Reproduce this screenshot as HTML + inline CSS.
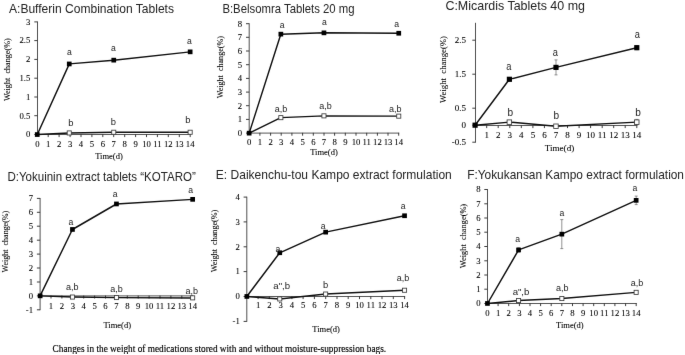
<!DOCTYPE html>
<html><head><meta charset="utf-8"><title>Figure</title>
<style>html,body{margin:0;padding:0;background:#fff}svg{display:block;will-change:transform}.t{font-family:"Liberation Serif", serif;fill:#000;stroke:#000;stroke-width:0.08px}.s{font-family:"Liberation Sans", sans-serif;fill:#222}</style></head><body>
<svg width="685" height="355" viewBox="0 0 685 355">
<defs><filter id="bl" x="0" y="0" width="100%" height="100%" color-interpolation-filters="sRGB"><feConvolveMatrix order="3" kernelMatrix="0.0028 0.0470 0.0028 0.0470 0.8008 0.0470 0.0028 0.0470 0.0028" divisor="1" edgeMode="duplicate" preserveAlpha="false"/></filter></defs>
<rect width="685" height="355" fill="#fff"/>
<g filter="url(#bl)">
<g id="chartA">
<text class="s" x="9.0" y="13.1" font-size="12.2" textLength="165.0" lengthAdjust="spacingAndGlyphs">A:Bufferin Combination Tablets</text>
<g fill="none">
<path d="M37.5 21.5V134.9" stroke="#505050" stroke-width="1"/>
<path d="M37.5 134.5H190.7" stroke="#555" stroke-width="1"/>
<path d="M37.5 134.5h-3.2M37.5 115.7h-3.2M37.5 97.0h-3.2M37.5 78.2h-3.2M37.5 59.4h-3.2M37.5 40.6h-3.2M37.5 21.9h-3.2M48.2 134.2v2.9M59.1 134.2v2.9M70.1 134.2v2.9M81.0 134.2v2.9M91.9 134.2v2.9M102.8 134.2v2.9M113.7 134.2v2.9M124.7 134.2v2.9M135.6 134.2v2.9M146.5 134.2v2.9M157.4 134.2v2.9M168.3 134.2v2.9M179.3 134.2v2.9M190.2 134.2v2.9" stroke="#333" stroke-width="0.95"/>
</g>
<text class="t" x="30.3" y="137.3" font-size="8.7" text-anchor="end">0</text>
<text class="t" x="30.3" y="118.5" font-size="8.7" text-anchor="end">0.5</text>
<text class="t" x="30.3" y="99.8" font-size="8.7" text-anchor="end">1</text>
<text class="t" x="30.3" y="81.0" font-size="8.7" text-anchor="end">1.5</text>
<text class="t" x="30.3" y="62.2" font-size="8.7" text-anchor="end">2</text>
<text class="t" x="30.3" y="43.4" font-size="8.7" text-anchor="end">2.5</text>
<text class="t" x="30.3" y="24.7" font-size="8.7" text-anchor="end">3</text>
<text class="t" x="37.3" y="146.8" font-size="8.7" text-anchor="middle">0</text>
<text class="t" x="48.2" y="146.8" font-size="8.7" text-anchor="middle">1</text>
<text class="t" x="59.1" y="146.8" font-size="8.7" text-anchor="middle">2</text>
<text class="t" x="70.1" y="146.8" font-size="8.7" text-anchor="middle">3</text>
<text class="t" x="81.0" y="146.8" font-size="8.7" text-anchor="middle">4</text>
<text class="t" x="91.9" y="146.8" font-size="8.7" text-anchor="middle">5</text>
<text class="t" x="102.8" y="146.8" font-size="8.7" text-anchor="middle">6</text>
<text class="t" x="113.7" y="146.8" font-size="8.7" text-anchor="middle">7</text>
<text class="t" x="124.7" y="146.8" font-size="8.7" text-anchor="middle">8</text>
<text class="t" x="135.6" y="146.8" font-size="8.7" text-anchor="middle">9</text>
<text class="t" x="146.5" y="146.8" font-size="8.7" text-anchor="middle">10</text>
<text class="t" x="157.4" y="146.8" font-size="8.7" text-anchor="middle">11</text>
<text class="t" x="168.3" y="146.8" font-size="8.7" text-anchor="middle">12</text>
<text class="t" x="179.3" y="146.8" font-size="8.7" text-anchor="middle">13</text>
<text class="t" x="190.2" y="146.8" font-size="8.7" text-anchor="middle">14</text>
<text class="t" x="109.0" y="158.6" font-size="8.5" text-anchor="middle">Time(d)</text>
<text class="t" transform="translate(10.1 69.7) rotate(-90)" font-size="8.1" text-anchor="middle" textLength="62.8" lengthAdjust="spacing" xml:space="preserve">Weight  change(%)</text>
<path d="M190.2 50.8V53.0M188.7 50.8h3M188.7 53.0h3" stroke="#666" stroke-width="0.7" fill="none"/>
<polyline fill="none" stroke="#111" stroke-width="1.45" stroke-linejoin="round" points="37.3,134.5 69.3,133.0 113.7,132.2 190.2,132.2"/>
<polyline fill="none" stroke="#111" stroke-width="1.45" stroke-linejoin="round" points="37.3,134.5 69.3,63.9 113.7,60.2 190.2,51.9"/>
<rect x="67.2" y="130.9" width="4.10" height="4.10" fill="#fff" stroke="#3a3a3a" stroke-width="0.85"/>
<rect x="111.7" y="130.2" width="4.10" height="4.10" fill="#fff" stroke="#3a3a3a" stroke-width="0.85"/>
<rect x="188.1" y="130.2" width="4.10" height="4.10" fill="#fff" stroke="#3a3a3a" stroke-width="0.85"/>
<rect x="34.9" y="132.2" width="4.70" height="4.70" fill="#000"/>
<rect x="66.9" y="61.6" width="4.70" height="4.70" fill="#000"/>
<rect x="111.4" y="57.8" width="4.70" height="4.70" fill="#000"/>
<rect x="187.8" y="49.5" width="4.70" height="4.70" fill="#000"/>
<text class="s" transform="translate(69.4 55.2) scale(0.90 1)" font-size="9.6" text-anchor="middle" fill="#333">a</text>
<text class="s" transform="translate(113.5 51.0) scale(0.90 1)" font-size="9.6" text-anchor="middle" fill="#333">a</text>
<text class="s" transform="translate(189.5 44.0) scale(0.90 1)" font-size="9.6" text-anchor="middle" fill="#333">a</text>
<text class="s" transform="translate(70.9 126.0) scale(0.98 1)" font-size="9.6" text-anchor="middle" fill="#333">b</text>
<text class="s" transform="translate(113.4 124.8) scale(0.98 1)" font-size="9.6" text-anchor="middle" fill="#333">b</text>
<text class="s" transform="translate(187.9 123.0) scale(0.98 1)" font-size="9.6" text-anchor="middle" fill="#333">b</text>
</g>
<g id="chartB">
<text class="s" x="222.4" y="12.6" font-size="12.2" textLength="132.2" lengthAdjust="spacingAndGlyphs">B:Belsomra Tablets 20 mg</text>
<g fill="none">
<path d="M249.2 23.3V133.5" stroke="#505050" stroke-width="1"/>
<path d="M249.2 133.1H399.2" stroke="#555" stroke-width="1"/>
<path d="M249.2 133.1h-3.2M249.2 119.4h-3.2M249.2 105.7h-3.2M249.2 92.1h-3.2M249.2 78.4h-3.2M249.2 64.7h-3.2M249.2 51.0h-3.2M249.2 37.3h-3.2M249.2 23.7h-3.2M259.9 132.8v2.9M270.6 132.8v2.9M281.2 132.8v2.9M291.9 132.8v2.9M302.6 132.8v2.9M313.3 132.8v2.9M324.0 132.8v2.9M334.6 132.8v2.9M345.3 132.8v2.9M356.0 132.8v2.9M366.7 132.8v2.9M377.4 132.8v2.9M388.0 132.8v2.9M398.7 132.8v2.9" stroke="#333" stroke-width="0.95"/>
</g>
<text class="t" x="242.2" y="135.9" font-size="8.7" text-anchor="end">0</text>
<text class="t" x="242.2" y="122.2" font-size="8.7" text-anchor="end">1</text>
<text class="t" x="242.2" y="108.5" font-size="8.7" text-anchor="end">2</text>
<text class="t" x="242.2" y="94.9" font-size="8.7" text-anchor="end">3</text>
<text class="t" x="242.2" y="81.2" font-size="8.7" text-anchor="end">4</text>
<text class="t" x="242.2" y="67.5" font-size="8.7" text-anchor="end">5</text>
<text class="t" x="242.2" y="53.8" font-size="8.7" text-anchor="end">6</text>
<text class="t" x="242.2" y="40.1" font-size="8.7" text-anchor="end">7</text>
<text class="t" x="242.2" y="26.5" font-size="8.7" text-anchor="end">8</text>
<text class="t" x="249.2" y="145.0" font-size="8.7" text-anchor="middle">0</text>
<text class="t" x="259.9" y="145.0" font-size="8.7" text-anchor="middle">1</text>
<text class="t" x="270.6" y="145.0" font-size="8.7" text-anchor="middle">2</text>
<text class="t" x="281.2" y="145.0" font-size="8.7" text-anchor="middle">3</text>
<text class="t" x="291.9" y="145.0" font-size="8.7" text-anchor="middle">4</text>
<text class="t" x="302.6" y="145.0" font-size="8.7" text-anchor="middle">5</text>
<text class="t" x="313.3" y="145.0" font-size="8.7" text-anchor="middle">6</text>
<text class="t" x="324.0" y="145.0" font-size="8.7" text-anchor="middle">7</text>
<text class="t" x="334.6" y="145.0" font-size="8.7" text-anchor="middle">8</text>
<text class="t" x="345.3" y="145.0" font-size="8.7" text-anchor="middle">9</text>
<text class="t" x="356.0" y="145.0" font-size="8.7" text-anchor="middle">10</text>
<text class="t" x="366.7" y="145.0" font-size="8.7" text-anchor="middle">11</text>
<text class="t" x="377.4" y="145.0" font-size="8.7" text-anchor="middle">12</text>
<text class="t" x="388.0" y="145.0" font-size="8.7" text-anchor="middle">13</text>
<text class="t" x="398.7" y="145.0" font-size="8.7" text-anchor="middle">14</text>
<text class="t" x="324.0" y="154.6" font-size="8.5" text-anchor="middle">Time(d)</text>
<text class="t" transform="translate(222.5 67.2) rotate(-90)" font-size="8.1" text-anchor="middle" textLength="62.3" lengthAdjust="spacing" xml:space="preserve">Weight  change(%)</text>
<polyline fill="none" stroke="#111" stroke-width="1.45" stroke-linejoin="round" points="249.2,133.1 280.8,117.6 324.0,115.9 398.7,116.1"/>
<polyline fill="none" stroke="#111" stroke-width="1.45" stroke-linejoin="round" points="249.2,133.1 280.8,34.2 324.0,32.8 398.7,33.2"/>
<rect x="278.8" y="115.6" width="4.10" height="4.10" fill="#fff" stroke="#3a3a3a" stroke-width="0.85"/>
<rect x="321.9" y="113.8" width="4.10" height="4.10" fill="#fff" stroke="#3a3a3a" stroke-width="0.85"/>
<rect x="396.7" y="114.1" width="4.10" height="4.10" fill="#fff" stroke="#3a3a3a" stroke-width="0.85"/>
<rect x="246.8" y="130.8" width="4.70" height="4.70" fill="#000"/>
<rect x="278.5" y="31.8" width="4.70" height="4.70" fill="#000"/>
<rect x="321.6" y="30.5" width="4.70" height="4.70" fill="#000"/>
<rect x="396.4" y="30.9" width="4.70" height="4.70" fill="#000"/>
<text class="s" transform="translate(282.1 28.3) scale(0.90 1)" font-size="9.6" text-anchor="middle" fill="#333">a</text>
<text class="s" transform="translate(324.4 25.3) scale(0.90 1)" font-size="9.6" text-anchor="middle" fill="#333">a</text>
<text class="s" transform="translate(396.7 27.0) scale(0.90 1)" font-size="9.6" text-anchor="middle" fill="#333">a</text>
<text class="s" transform="translate(280.9 112.1) scale(0.94 1)" font-size="9.6" text-anchor="middle" fill="#333">a,b</text>
<text class="s" transform="translate(325.4 109.0) scale(0.94 1)" font-size="9.6" text-anchor="middle" fill="#333">a,b</text>
<text class="s" transform="translate(395.2 111.6) scale(0.94 1)" font-size="9.6" text-anchor="middle" fill="#333">a,b</text>
</g>
<g id="chartC">
<text class="s" x="445.4" y="10.2" font-size="12.2" textLength="139.6" lengthAdjust="spacingAndGlyphs">C:Micardis Tablets 40 mg</text>
<g fill="none">
<path d="M475.5 22.8V142.6" stroke="#505050" stroke-width="1"/>
<path d="M475.5 125.5H637.3" stroke="#555" stroke-width="1"/>
<path d="M475.5 142.2h-3.2M475.5 125.2h-3.2M475.5 108.2h-3.2M475.5 74.2h-3.2M475.5 40.2h-3.2M486.7 125.2v2.9M498.2 125.2v2.9M509.8 125.2v2.9M521.3 125.2v2.9M532.9 125.2v2.9M544.4 125.2v2.9M556.0 125.2v2.9M567.5 125.2v2.9M579.1 125.2v2.9M590.6 125.2v2.9M602.2 125.2v2.9M613.7 125.2v2.9M625.2 125.2v2.9M636.8 125.2v2.9" stroke="#333" stroke-width="0.95"/>
</g>
<text class="t" x="466.1" y="145.0" font-size="9.0" text-anchor="end">-0.5</text>
<text class="t" x="466.1" y="128.0" font-size="9.0" text-anchor="end">0</text>
<text class="t" x="466.1" y="111.0" font-size="9.0" text-anchor="end">0.5</text>
<text class="t" x="466.1" y="77.0" font-size="9.0" text-anchor="end">1.5</text>
<text class="t" x="466.1" y="43.0" font-size="9.0" text-anchor="end">2.5</text>
<text class="t" x="486.7" y="138.4" font-size="9.0" text-anchor="middle">1</text>
<text class="t" x="498.2" y="138.4" font-size="9.0" text-anchor="middle">2</text>
<text class="t" x="509.8" y="138.4" font-size="9.0" text-anchor="middle">3</text>
<text class="t" x="521.3" y="138.4" font-size="9.0" text-anchor="middle">4</text>
<text class="t" x="532.9" y="138.4" font-size="9.0" text-anchor="middle">5</text>
<text class="t" x="544.4" y="138.4" font-size="9.0" text-anchor="middle">6</text>
<text class="t" x="556.0" y="138.4" font-size="9.0" text-anchor="middle">7</text>
<text class="t" x="567.5" y="138.4" font-size="9.0" text-anchor="middle">8</text>
<text class="t" x="579.1" y="138.4" font-size="9.0" text-anchor="middle">9</text>
<text class="t" x="590.6" y="138.4" font-size="9.0" text-anchor="middle">10</text>
<text class="t" x="602.2" y="138.4" font-size="9.0" text-anchor="middle">11</text>
<text class="t" x="613.7" y="138.4" font-size="9.0" text-anchor="middle">12</text>
<text class="t" x="625.2" y="138.4" font-size="9.0" text-anchor="middle">13</text>
<text class="t" x="636.8" y="138.4" font-size="9.0" text-anchor="middle">14</text>
<text class="t" x="559.5" y="151.2" font-size="9.1" text-anchor="middle">Time(d)</text>
<text class="t" transform="translate(446.4 69.5) rotate(-90)" font-size="8.6" text-anchor="middle" textLength="66.8" lengthAdjust="spacing" xml:space="preserve">Weight  change(%)</text>
<path d="M509.4 77.9V80.7M507.9 77.9h3M507.9 80.7h3M556.0 59.9V74.9M554.5 59.9h3M554.5 74.9h3M636.8 45.6V49.7M635.3 45.6h3M635.3 49.7h3M636.8 119.4V124.9M635.3 119.4h3M635.3 124.9h3" stroke="#666" stroke-width="0.7" fill="none"/>
<polyline fill="none" stroke="#111" stroke-width="1.45" stroke-linejoin="round" points="475.1,125.2 509.4,122.1 556.0,126.2 636.8,122.1"/>
<polyline fill="none" stroke="#111" stroke-width="1.45" stroke-linejoin="round" points="475.1,125.2 509.4,79.3 556.0,67.4 636.8,47.7"/>
<rect x="507.1" y="119.9" width="4.51" height="4.51" fill="#fff" stroke="#3a3a3a" stroke-width="0.85"/>
<rect x="553.7" y="124.0" width="4.51" height="4.51" fill="#fff" stroke="#3a3a3a" stroke-width="0.85"/>
<rect x="634.5" y="119.9" width="4.51" height="4.51" fill="#fff" stroke="#3a3a3a" stroke-width="0.85"/>
<rect x="472.5" y="122.6" width="5.17" height="5.17" fill="#000"/>
<rect x="506.8" y="76.7" width="5.17" height="5.17" fill="#000"/>
<rect x="553.4" y="64.8" width="5.17" height="5.17" fill="#000"/>
<rect x="634.2" y="45.1" width="5.17" height="5.17" fill="#000"/>
<text class="s" transform="translate(508.9 70.1) scale(0.90 1)" font-size="10.3" text-anchor="middle" fill="#333">a</text>
<text class="s" transform="translate(555.4 55.7) scale(0.90 1)" font-size="10.3" text-anchor="middle" fill="#333">a</text>
<text class="s" transform="translate(637.3 37.7) scale(0.90 1)" font-size="10.3" text-anchor="middle" fill="#333">a</text>
<text class="s" transform="translate(510.4 115.9) scale(0.98 1)" font-size="10.3" text-anchor="middle" fill="#333">b</text>
<text class="s" transform="translate(556.4 119.0) scale(0.98 1)" font-size="10.3" text-anchor="middle" fill="#333">b</text>
<text class="s" transform="translate(638.0 116.0) scale(0.98 1)" font-size="10.3" text-anchor="middle" fill="#333">b</text>
</g>
<g id="chartD">
<text class="s" x="7.4" y="180.6" font-size="12.2" textLength="188.4" lengthAdjust="spacingAndGlyphs">D:Yokuinin extract tablets “KOTARO”</text>
<g fill="none">
<path d="M40.1 198.0V310.2" stroke="#505050" stroke-width="1"/>
<path d="M40.1 295.9H193.2" stroke="#555" stroke-width="1"/>
<path d="M40.1 309.8h-3.2M40.1 295.9h-3.2M40.1 282.0h-3.2M40.1 268.0h-3.2M40.1 254.1h-3.2M40.1 240.2h-3.2M40.1 226.2h-3.2M40.1 212.3h-3.2M40.1 198.4h-3.2M51.0 295.6v2.9M61.9 295.6v2.9M72.8 295.6v2.9M83.7 295.6v2.9M94.6 295.6v2.9M105.5 295.6v2.9M116.4 295.6v2.9M127.3 295.6v2.9M138.2 295.6v2.9M149.1 295.6v2.9M160.0 295.6v2.9M170.9 295.6v2.9M181.8 295.6v2.9M192.7 295.6v2.9" stroke="#333" stroke-width="0.95"/>
</g>
<text class="t" x="33.1" y="312.6" font-size="8.7" text-anchor="end">-1</text>
<text class="t" x="33.1" y="298.7" font-size="8.7" text-anchor="end">0</text>
<text class="t" x="33.1" y="284.8" font-size="8.7" text-anchor="end">1</text>
<text class="t" x="33.1" y="270.8" font-size="8.7" text-anchor="end">2</text>
<text class="t" x="33.1" y="256.9" font-size="8.7" text-anchor="end">3</text>
<text class="t" x="33.1" y="243.0" font-size="8.7" text-anchor="end">4</text>
<text class="t" x="33.1" y="229.0" font-size="8.7" text-anchor="end">5</text>
<text class="t" x="33.1" y="215.1" font-size="8.7" text-anchor="end">6</text>
<text class="t" x="33.1" y="201.2" font-size="8.7" text-anchor="end">7</text>
<text class="t" x="51.0" y="308.8" font-size="8.7" text-anchor="middle">1</text>
<text class="t" x="61.9" y="308.8" font-size="8.7" text-anchor="middle">2</text>
<text class="t" x="72.8" y="308.8" font-size="8.7" text-anchor="middle">3</text>
<text class="t" x="83.7" y="308.8" font-size="8.7" text-anchor="middle">4</text>
<text class="t" x="94.6" y="308.8" font-size="8.7" text-anchor="middle">5</text>
<text class="t" x="105.5" y="308.8" font-size="8.7" text-anchor="middle">6</text>
<text class="t" x="116.4" y="308.8" font-size="8.7" text-anchor="middle">7</text>
<text class="t" x="127.3" y="308.8" font-size="8.7" text-anchor="middle">8</text>
<text class="t" x="138.2" y="308.8" font-size="8.7" text-anchor="middle">9</text>
<text class="t" x="149.1" y="308.8" font-size="8.7" text-anchor="middle">10</text>
<text class="t" x="160.0" y="308.8" font-size="8.7" text-anchor="middle">11</text>
<text class="t" x="170.9" y="308.8" font-size="8.7" text-anchor="middle">12</text>
<text class="t" x="181.8" y="308.8" font-size="8.7" text-anchor="middle">13</text>
<text class="t" x="192.7" y="308.8" font-size="8.7" text-anchor="middle">14</text>
<text class="t" x="117.2" y="328.1" font-size="8.5" text-anchor="middle">Time(d)</text>
<text class="t" transform="translate(7.5 241.6) rotate(-90)" font-size="8.0" text-anchor="middle" textLength="61.6" lengthAdjust="spacing" xml:space="preserve">Weight  change(%)</text>
<polyline fill="none" stroke="#111" stroke-width="1.45" stroke-linejoin="round" points="40.1,295.9 72.4,297.0 116.4,297.6 192.7,297.9"/>
<polyline fill="none" stroke="#111" stroke-width="1.45" stroke-linejoin="round" points="40.1,295.9 72.4,229.5 116.4,204.0 192.7,199.4"/>
<rect x="70.4" y="295.0" width="4.10" height="4.10" fill="#fff" stroke="#3a3a3a" stroke-width="0.85"/>
<rect x="114.4" y="295.5" width="4.10" height="4.10" fill="#fff" stroke="#3a3a3a" stroke-width="0.85"/>
<rect x="190.6" y="295.8" width="4.10" height="4.10" fill="#fff" stroke="#3a3a3a" stroke-width="0.85"/>
<rect x="37.8" y="293.5" width="4.70" height="4.70" fill="#000"/>
<rect x="70.1" y="227.1" width="4.70" height="4.70" fill="#000"/>
<rect x="114.1" y="201.6" width="4.70" height="4.70" fill="#000"/>
<rect x="190.3" y="197.0" width="4.70" height="4.70" fill="#000"/>
<text class="s" transform="translate(70.9 225.0) scale(0.90 1)" font-size="9.6" text-anchor="middle" fill="#333">a</text>
<text class="s" transform="translate(115.2 197.1) scale(0.90 1)" font-size="9.6" text-anchor="middle" fill="#333">a</text>
<text class="s" transform="translate(190.7 192.6) scale(0.90 1)" font-size="9.6" text-anchor="middle" fill="#333">a</text>
<text class="s" transform="translate(72.2 290.3) scale(0.94 1)" font-size="9.6" text-anchor="middle" fill="#333">a,b</text>
<text class="s" transform="translate(116.4 292.0) scale(0.94 1)" font-size="9.6" text-anchor="middle" fill="#333">a,b</text>
<text class="s" transform="translate(191.8 293.9) scale(0.94 1)" font-size="9.6" text-anchor="middle" fill="#333">a,b</text>
</g>
<g id="chartE">
<text class="s" x="215.8" y="178.6" font-size="12.2" textLength="236.0" lengthAdjust="spacingAndGlyphs">E: Daikenchu-tou Kampo extract formulation</text>
<g fill="none">
<path d="M246.8 196.7V321.8" stroke="#505050" stroke-width="1"/>
<path d="M246.8 296.5H405.1" stroke="#555" stroke-width="1"/>
<path d="M246.8 321.4h-3.2M246.8 296.5h-3.2M246.8 271.6h-3.2M246.8 246.8h-3.2M246.8 221.9h-3.2M246.8 197.1h-3.2M258.1 296.2v2.9M269.3 296.2v2.9M280.6 296.2v2.9M291.9 296.2v2.9M303.1 296.2v2.9M314.4 296.2v2.9M325.7 296.2v2.9M337.0 296.2v2.9M348.2 296.2v2.9M359.5 296.2v2.9M370.8 296.2v2.9M382.0 296.2v2.9M393.3 296.2v2.9M404.6 296.2v2.9" stroke="#333" stroke-width="0.95"/>
</g>
<text class="t" x="239.8" y="324.2" font-size="8.7" text-anchor="end">-1</text>
<text class="t" x="239.8" y="299.3" font-size="8.7" text-anchor="end">0</text>
<text class="t" x="239.8" y="274.4" font-size="8.7" text-anchor="end">1</text>
<text class="t" x="239.8" y="249.6" font-size="8.7" text-anchor="end">2</text>
<text class="t" x="239.8" y="224.8" font-size="8.7" text-anchor="end">3</text>
<text class="t" x="239.8" y="199.9" font-size="8.7" text-anchor="end">4</text>
<text class="t" x="258.1" y="308.4" font-size="8.7" text-anchor="middle">1</text>
<text class="t" x="269.3" y="308.4" font-size="8.7" text-anchor="middle">2</text>
<text class="t" x="280.6" y="308.4" font-size="8.7" text-anchor="middle">3</text>
<text class="t" x="291.9" y="308.4" font-size="8.7" text-anchor="middle">4</text>
<text class="t" x="303.1" y="308.4" font-size="8.7" text-anchor="middle">5</text>
<text class="t" x="314.4" y="308.4" font-size="8.7" text-anchor="middle">6</text>
<text class="t" x="325.7" y="308.4" font-size="8.7" text-anchor="middle">7</text>
<text class="t" x="337.0" y="308.4" font-size="8.7" text-anchor="middle">8</text>
<text class="t" x="348.2" y="308.4" font-size="8.7" text-anchor="middle">9</text>
<text class="t" x="359.5" y="308.4" font-size="8.7" text-anchor="middle">10</text>
<text class="t" x="370.8" y="308.4" font-size="8.7" text-anchor="middle">11</text>
<text class="t" x="382.0" y="308.4" font-size="8.7" text-anchor="middle">12</text>
<text class="t" x="393.3" y="308.4" font-size="8.7" text-anchor="middle">13</text>
<text class="t" x="404.6" y="308.4" font-size="8.7" text-anchor="middle">14</text>
<text class="t" x="326.1" y="332.4" font-size="8.5" text-anchor="middle">Time(d)</text>
<text class="t" transform="translate(216.5 241.0) rotate(-90)" font-size="8.1" text-anchor="middle" textLength="62.5" lengthAdjust="spacing" xml:space="preserve">Weight  change(%)</text>
<polyline fill="none" stroke="#111" stroke-width="1.45" stroke-linejoin="round" points="246.8,296.5 279.7,299.0 325.7,294.0 404.6,290.3"/>
<polyline fill="none" stroke="#111" stroke-width="1.45" stroke-linejoin="round" points="246.8,296.5 279.7,252.8 325.7,232.1 404.6,215.7"/>
<rect x="277.7" y="296.9" width="4.10" height="4.10" fill="#fff" stroke="#3a3a3a" stroke-width="0.85"/>
<rect x="323.6" y="292.0" width="4.10" height="4.10" fill="#fff" stroke="#3a3a3a" stroke-width="0.85"/>
<rect x="402.5" y="288.2" width="4.10" height="4.10" fill="#fff" stroke="#3a3a3a" stroke-width="0.85"/>
<rect x="244.5" y="294.1" width="4.70" height="4.70" fill="#000"/>
<rect x="277.4" y="250.4" width="4.70" height="4.70" fill="#000"/>
<rect x="323.3" y="229.8" width="4.70" height="4.70" fill="#000"/>
<rect x="402.2" y="213.4" width="4.70" height="4.70" fill="#000"/>
<text class="s" transform="translate(278.0 251.8) scale(0.90 1)" font-size="9.6" text-anchor="middle" fill="#333">a</text>
<text class="s" transform="translate(323.2 229.3) scale(0.90 1)" font-size="9.6" text-anchor="middle" fill="#333">a</text>
<text class="s" transform="translate(403.2 209.0) scale(0.90 1)" font-size="9.6" text-anchor="middle" fill="#333">a</text>
<text class="s" transform="translate(281.7 289.0) scale(1.00 1)" font-size="9.6" text-anchor="middle" fill="#333">a&quot;,b</text>
<text class="s" transform="translate(325.5 287.7) scale(0.98 1)" font-size="9.6" text-anchor="middle" fill="#333">b</text>
<text class="s" transform="translate(403.0 280.5) scale(0.94 1)" font-size="9.6" text-anchor="middle" fill="#333">a,b</text>
</g>
<g id="chartF">
<text class="s" x="467.2" y="179.4" font-size="12.2" textLength="216.8" lengthAdjust="spacingAndGlyphs">F:Yokukansan Kampo extract formulation</text>
<g fill="none">
<path d="M487.5 189.1V303.9" stroke="#505050" stroke-width="1"/>
<path d="M487.5 303.5H636.7" stroke="#555" stroke-width="1"/>
<path d="M487.5 303.5h-3.2M487.5 289.2h-3.2M487.5 275.0h-3.2M487.5 260.8h-3.2M487.5 246.5h-3.2M487.5 232.2h-3.2M487.5 218.0h-3.2M487.5 203.8h-3.2M487.5 189.5h-3.2M498.1 303.2v2.9M508.7 303.2v2.9M519.4 303.2v2.9M530.0 303.2v2.9M540.6 303.2v2.9M551.2 303.2v2.9M561.8 303.2v2.9M572.5 303.2v2.9M583.1 303.2v2.9M593.7 303.2v2.9M604.3 303.2v2.9M614.9 303.2v2.9M625.6 303.2v2.9M636.2 303.2v2.9" stroke="#333" stroke-width="0.95"/>
</g>
<text class="t" x="480.5" y="306.3" font-size="8.7" text-anchor="end">0</text>
<text class="t" x="480.5" y="292.1" font-size="8.7" text-anchor="end">1</text>
<text class="t" x="480.5" y="277.8" font-size="8.7" text-anchor="end">2</text>
<text class="t" x="480.5" y="263.6" font-size="8.7" text-anchor="end">3</text>
<text class="t" x="480.5" y="249.3" font-size="8.7" text-anchor="end">4</text>
<text class="t" x="480.5" y="235.1" font-size="8.7" text-anchor="end">5</text>
<text class="t" x="480.5" y="220.8" font-size="8.7" text-anchor="end">6</text>
<text class="t" x="480.5" y="206.6" font-size="8.7" text-anchor="end">7</text>
<text class="t" x="480.5" y="192.3" font-size="8.7" text-anchor="end">8</text>
<text class="t" x="487.5" y="315.7" font-size="8.7" text-anchor="middle">0</text>
<text class="t" x="498.1" y="315.7" font-size="8.7" text-anchor="middle">1</text>
<text class="t" x="508.7" y="315.7" font-size="8.7" text-anchor="middle">2</text>
<text class="t" x="519.4" y="315.7" font-size="8.7" text-anchor="middle">3</text>
<text class="t" x="530.0" y="315.7" font-size="8.7" text-anchor="middle">4</text>
<text class="t" x="540.6" y="315.7" font-size="8.7" text-anchor="middle">5</text>
<text class="t" x="551.2" y="315.7" font-size="8.7" text-anchor="middle">6</text>
<text class="t" x="561.8" y="315.7" font-size="8.7" text-anchor="middle">7</text>
<text class="t" x="572.5" y="315.7" font-size="8.7" text-anchor="middle">8</text>
<text class="t" x="583.1" y="315.7" font-size="8.7" text-anchor="middle">9</text>
<text class="t" x="593.7" y="315.7" font-size="8.7" text-anchor="middle">10</text>
<text class="t" x="604.3" y="315.7" font-size="8.7" text-anchor="middle">11</text>
<text class="t" x="614.9" y="315.7" font-size="8.7" text-anchor="middle">12</text>
<text class="t" x="625.6" y="315.7" font-size="8.7" text-anchor="middle">13</text>
<text class="t" x="636.2" y="315.7" font-size="8.7" text-anchor="middle">14</text>
<text class="t" x="569.8" y="328.1" font-size="8.5" text-anchor="middle">Time(d)</text>
<text class="t" transform="translate(466.0 236.0) rotate(-90)" font-size="8.3" text-anchor="middle" textLength="64.3" lengthAdjust="spacing" xml:space="preserve">Weight  change(%)</text>
<path d="M518.6 247.8V252.1M517.1 247.8h3M517.1 252.1h3M561.8 219.6V248.6M560.3 219.6h3M560.3 248.6h3M636.2 196.1V204.6M634.7 196.1h3M634.7 204.6h3M636.2 291.0V293.8M634.7 291.0h3M634.7 293.8h3" stroke="#666" stroke-width="0.7" fill="none"/>
<polyline fill="none" stroke="#111" stroke-width="1.45" stroke-linejoin="round" points="487.5,303.5 518.6,300.5 561.8,298.5 636.2,292.4"/>
<polyline fill="none" stroke="#111" stroke-width="1.45" stroke-linejoin="round" points="487.5,303.5 518.6,249.9 561.8,234.1 636.2,200.3"/>
<rect x="516.5" y="298.5" width="4.10" height="4.10" fill="#fff" stroke="#3a3a3a" stroke-width="0.85"/>
<rect x="559.8" y="296.5" width="4.10" height="4.10" fill="#fff" stroke="#3a3a3a" stroke-width="0.85"/>
<rect x="634.1" y="290.3" width="4.10" height="4.10" fill="#fff" stroke="#3a3a3a" stroke-width="0.85"/>
<rect x="485.1" y="301.1" width="4.70" height="4.70" fill="#000"/>
<rect x="516.2" y="247.6" width="4.70" height="4.70" fill="#000"/>
<rect x="559.5" y="231.8" width="4.70" height="4.70" fill="#000"/>
<rect x="633.8" y="198.0" width="4.70" height="4.70" fill="#000"/>
<text class="s" transform="translate(517.7 242.3) scale(0.90 1)" font-size="9.6" text-anchor="middle" fill="#333">a</text>
<text class="s" transform="translate(562.0 216.2) scale(0.90 1)" font-size="9.6" text-anchor="middle" fill="#333">a</text>
<text class="s" transform="translate(635.0 191.3) scale(0.90 1)" font-size="9.6" text-anchor="middle" fill="#333">a</text>
<text class="s" transform="translate(521.0 294.7) scale(1.00 1)" font-size="9.6" text-anchor="middle" fill="#333">a&quot;,b</text>
<text class="s" transform="translate(562.3 290.7) scale(0.94 1)" font-size="9.6" text-anchor="middle" fill="#333">a,b</text>
<text class="s" transform="translate(637.0 285.8) scale(0.94 1)" font-size="9.6" text-anchor="middle" fill="#333">a,b</text>
</g>
<text class="t" x="52.6" y="351.5" font-size="9.4" style="fill:#000;stroke:#000;stroke-width:0.15" textLength="333.5" lengthAdjust="spacingAndGlyphs">Changes in the weight of medications stored with and without moisture-suppression bags.</text>
</g></svg></body></html>
